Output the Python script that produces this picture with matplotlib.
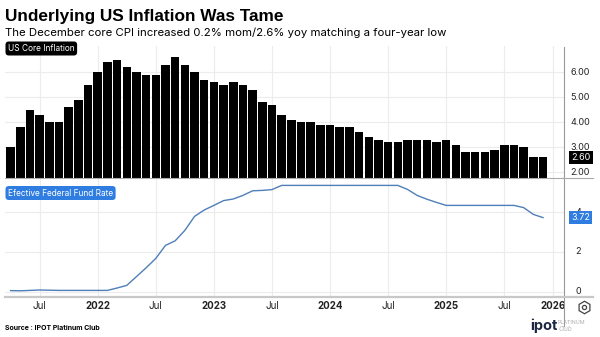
import numpy as np
import matplotlib.pyplot as plt

plt.rcParams['font.family'] = ['Inter', 'DejaVu Sans']

# monthly series, Apr 2021 .. Dec 2025 (no Oct 2025 print)
core_cpi = [3.0, 3.8, 4.5, 4.3, 4.0, 4.0, 4.6, 4.9, 5.5,
            6.0, 6.4, 6.5, 6.2, 6.0, 5.9, 5.9, 6.3, 6.6, 6.3, 6.0, 5.7,
            5.6, 5.5, 5.6, 5.5, 5.3, 4.8, 4.7, 4.3, 4.1, 4.0, 4.0, 3.9,
            3.9, 3.8, 3.8, 3.6, 3.4, 3.3, 3.2, 3.2, 3.3, 3.3, 3.3, 3.2,
            3.3, 3.1, 2.8, 2.8, 2.8, 2.9, 3.1, 3.1, 3.0, 2.6, 2.6]
fed_funds = [0.07, 0.06, 0.08, 0.10, 0.09, 0.08, 0.08, 0.08, 0.08,
             0.08, 0.08, 0.20, 0.33, 0.77, 1.21, 1.68, 2.33, 2.56, 3.08, 3.78, 4.10,
             4.33, 4.57, 4.65, 4.83, 5.06, 5.08, 5.12, 5.33, 5.33, 5.33, 5.33, 5.33,
             5.33, 5.33, 5.33, 5.33, 5.33, 5.33, 5.33, 5.33, 5.13, 4.83, 4.64, 4.48,
             4.33, 4.33, 4.33, 4.33, 4.33, 4.33, 4.33, 4.33, 4.22, 3.88, 3.72]
tick_pos = [3, 9, 15, 21, 27, 33, 39, 45, 51, 56]
tick_labels = ['Jul', '2022', 'Jul', '2023', 'Jul', '2024', 'Jul', '2025', 'Jul', '2026']
cpi_ticks = [2, 3, 4, 5, 6]
ffr_ticks = [0, 2, 4]

W, H = 600, 337
fig = plt.figure(figsize=(W / 100, H / 100), dpi=100)

def px_axes(left, top, right, bottom):
    return fig.add_axes([left / W, 1 - bottom / H, (right - left) / W, (bottom - top) / H])

x = np.arange(len(core_cpi))
grid_c = '#ececec'
blue = '#2f7de1'

ax1 = px_axes(5, 46, 564, 177.5)
ax1.bar(x, core_cpi, width=0.88, color='black', bottom=0)
ax1.set_ylim(1.8, 7.04)
ax1.set_xlim(-0.58, 57.17)

ax2 = px_axes(5, 179, 564, 296)
ax2.plot(x, fed_funds, color='#4f7fb8', lw=1.0)
ax2.set_ylim(-0.2, 5.65)
ax2.set_xlim(-0.58, 57.17)

for ax, yt in ((ax1, cpi_ticks), (ax2, ffr_ticks)):
    for s in ax.spines.values():
        s.set_visible(False)
    ax.set_xticks(tick_pos)
    ax.set_yticks(yt)
    ax.grid(True, color=grid_c, lw=0.8)
    ax.set_axisbelow(True)
    ax.tick_params(length=0, labelleft=False, labelbottom=False)

# right-hand value labels
for v in cpi_ticks:
    ax1.text(1.012, v, f'{v:.2f}', transform=ax1.get_yaxis_transform(),
             ha='left', va='center', fontsize=6.5, color='#222222')
for v in ffr_ticks:
    ax2.text(1.02, v, f'{v}', transform=ax2.get_yaxis_transform(),
             ha='left', va='center', fontsize=6.5, color='#222222', zorder=3)

# date labels under the lower panel
for p, lab in zip(tick_pos, tick_labels):
    ax2.text(p, -0.085, lab, transform=ax2.get_xaxis_transform(), ha='center', va='center',
             fontsize=7, fontweight='bold' if lab != 'Jul' else 'normal', color='#222222')

# last values
ax1.text(1.013, core_cpi[-1], f'{core_cpi[-1]:.2f}', transform=ax1.get_yaxis_transform(),
         ha='left', va='center', fontsize=6.5, color='white', zorder=6,
         bbox=dict(boxstyle='square,pad=0.22', fc='black', ec='none'))
ax2.text(1.013, fed_funds[-1], f'{fed_funds[-1]:.2f}', transform=ax2.get_yaxis_transform(),
         ha='left', va='center', fontsize=6.5, color='white', zorder=6,
         bbox=dict(boxstyle='square,pad=0.22', fc=blue, ec='none'))

# series name tags
fig.text(8 / W, 1 - 48.5 / H, 'US Core Inflation', fontsize=6, color='white', va='center',
         bbox=dict(boxstyle='round,pad=0.3,rounding_size=0.4', fc='black', ec='none'))
fig.text(8 / W, 1 - 193 / H, 'Efective Federal Fund Rate', fontsize=6, color='white', va='center',
         bbox=dict(boxstyle='round,pad=0.3,rounding_size=0.4', fc=blue, ec='none'))

# axis frame lines
fig.add_artist(plt.Line2D([564 / W, 564 / W], [1 - 47 / H, 1 - 326 / H], color='#999999', lw=0.8))
fig.add_artist(plt.Line2D([5 / W, 593 / W], [1 - 177.5 / H, 1 - 177.5 / H], color='#aaaaaa', lw=0.8))
fig.add_artist(plt.Line2D([5 / W, 593 / W], [1 - 296.5 / H, 1 - 296.5 / H], color='#c8c8c8', lw=1.6))

# titles
fig.text(5 / W, 1 - 16 / H, 'Underlying US Inflation Was Tame', fontsize=12.4, fontweight='bold',
         family='Liberation Sans', va='center', color='black')
fig.text(5 / W, 1 - 33 / H, 'The December core CPI increased 0.2% mom/2.6% yoy matching a four-year low',
         fontsize=8.2, va='center', color='black')
fig.text(5 / W, 1 - 328 / H, 'Source : IPOT Platinum Club', fontsize=5.0, fontweight='bold',
         va='center', color='black')

# settings icon and logo
fig.add_artist(plt.Line2D([584 / W], [1 - 307 / H], marker='h', ms=9, mfc='none',
                          mec='#444444', mew=0.9, ls='none'))
fig.add_artist(plt.Line2D([584 / W], [1 - 307 / H], marker='o', ms=3, mfc='none',
                          mec='#444444', mew=0.9, ls='none'))
fig.text(530 / W, 1 - 326 / H, 'ipot', fontsize=10.5, fontweight='bold', va='center', color='#1c2541')
fig.text(557 / W, 1 - 322 / H, 'PLATINUM', fontsize=3.8, va='center', color='#aaaaaa')
fig.text(559 / W, 1 - 329 / H, 'Club', fontsize=4.5, style='italic', va='center', color='#bbbbbb')

fig.savefig('out.png', dpi=100, facecolor='white')
